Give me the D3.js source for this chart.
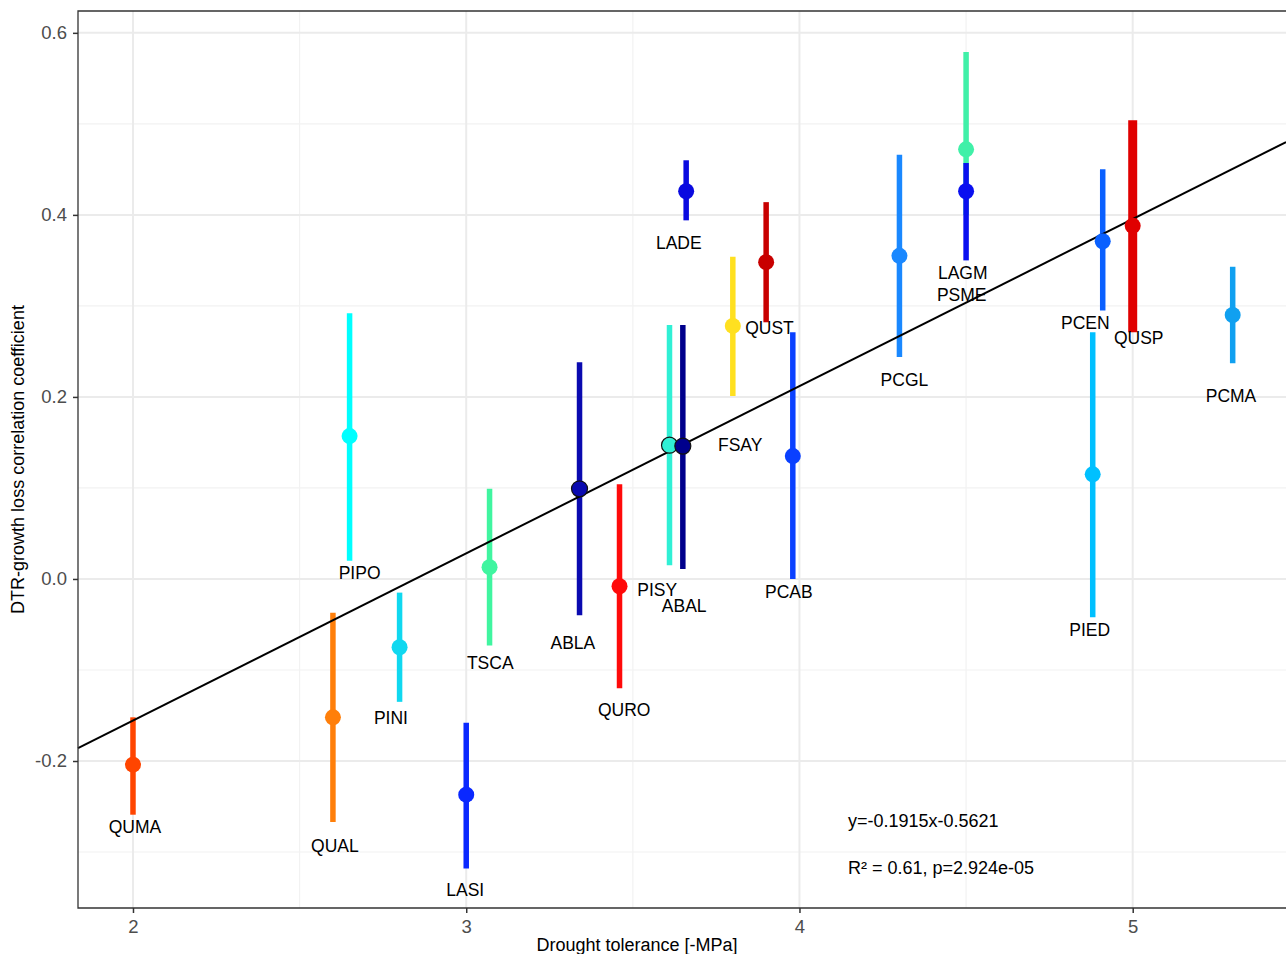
<!DOCTYPE html>
<html><head><meta charset="utf-8">
<script src="https://cdn.jsdelivr.net/npm/d3@7/dist/d3.min.js"></script>
<style>body{margin:0;background:#fff}svg{display:block}text{font-family:"Liberation Sans",Arial,sans-serif}</style>
</head><body><svg id="c" width="1286" height="954"></svg>
<script>
const species = ["QUMA","QUAL","PINI","PIPO","LASI","TSCA","ABLA","QURO","PISY","ABAL","LADE","FSAY","QUST","PCAB","PCGL","LAGM","PSME","PCEN","QUSP","PCMA","PIED"];
const tolerance = [2.0,2.6,2.8,2.65,3.0,3.07,3.34,3.46,3.61,3.65,3.66,3.80,3.90,3.98,4.30,4.50,4.50,4.91,5.0,5.30,4.88];
const corr = [-0.204,-0.152,-0.075,0.157,-0.237,0.013,0.099,-0.008,0.147,0.146,0.426,0.278,0.348,0.135,0.355,0.472,0.426,0.371,0.388,0.290,0.115];
const lower = [-0.259,-0.267,-0.135,0.020,-0.318,-0.073,-0.040,-0.120,0.015,0.011,0.394,0.201,0.282,0.0,0.244,0.40,0.350,0.295,0.271,0.237,-0.042];
const upper = [-0.152,-0.037,-0.015,0.292,-0.158,0.099,0.238,0.104,0.279,0.279,0.460,0.354,0.414,0.271,0.466,0.579,0.457,0.450,0.504,0.343,0.271];
const colors = ["#ff4500","#ff7f0a","#10d8f0","#00ffff","#0a28ff","#40f5a0","#0a0ab0","#ff0a0a","#30f0d5","#00008c","#0a0ae0","#ffe020","#c80000","#0a40ff","#1a88ff","#40f0a8","#0a10f0","#0a60ff","#e00000","#10a0f0","#00c0ff"];
const outlined = ["ABLA","PISY","ABAL"];
const barWidth = {QUSP:9};
// label positions in data units (placed by repel in original)
const labelX = [2.006,2.606,2.774,2.68,2.997,3.072,3.32,3.474,3.573,3.654,3.638,3.822,3.91,3.968,4.315,4.49,4.487,4.858,5.018,5.295,4.871];
const labelY = [-0.2725,-0.293,-0.153,0.0066,-0.342,-0.092,-0.070,-0.144,-0.012,-0.030,0.369,0.147,0.276,-0.014,0.219,0.336,0.312,0.281,0.265,0.201,-0.056];
const fitSlope = 0.1837, fitIntercept = -0.523;
const xTicks = [2,3,4,5], yTicks = [-0.2,0,0.2,0.4,0.6];
const xMinor = [2.5,3.5,4.5], yMinor = [-0.3,-0.1,0.1,0.3,0.5];
const eqText = "y=-0.1915x-0.5621";
const r2Text = "R² = 0.61, p=2.924e-05";

const svg = d3.select("#c");
const L=78, T=11, R=1286, B=908;
const x = d3.scaleLinear().domain([1.835,5.46]).range([L,R]);
const y = d3.scaleLinear().domain([-0.3615,0.624]).range([B,T]);
const g = svg.append("g");
// grid
g.selectAll(".ym").data(yMinor).join("line").attr("x1",L).attr("x2",R).attr("y1",d=>y(d)).attr("y2",d=>y(d)).attr("stroke","#f2f2f2").attr("stroke-width",1.2);
g.selectAll(".xm").data(xMinor).join("line").attr("y1",T).attr("y2",B).attr("x1",d=>x(d)).attr("x2",d=>x(d)).attr("stroke","#f2f2f2").attr("stroke-width",1.2);
g.selectAll(".yM").data(yTicks).join("line").attr("x1",L).attr("x2",R).attr("y1",d=>y(d)).attr("y2",d=>y(d)).attr("stroke","#ebebeb").attr("stroke-width",2);
g.selectAll(".xM").data(xTicks).join("line").attr("y1",T).attr("y2",B).attr("x1",d=>x(d)).attr("x2",d=>x(d)).attr("stroke","#ebebeb").attr("stroke-width",2);

const data = species.map((s,i)=>({s,x:tolerance[i],y:corr[i],lo:lower[i],hi:upper[i],c:colors[i],lx:labelX[i],ly:labelY[i]}));
// bars
g.selectAll(".bar").data(data).join("line").attr("x1",d=>x(d.x)).attr("x2",d=>x(d.x)).attr("y1",d=>y(d.lo)).attr("y2",d=>y(d.hi)).attr("stroke",d=>d.c).attr("stroke-width",d=>barWidth[d.s]||5.5);
// regression
const xd = x.domain();
g.append("line").attr("x1",x(xd[0])).attr("x2",x(xd[1])).attr("y1",y(fitSlope*xd[0]+fitIntercept)).attr("y2",y(fitSlope*xd[1]+fitIntercept)).attr("stroke","#000").attr("stroke-width",2);
// points
g.selectAll(".pt").data(data).join("circle").attr("cx",d=>x(d.x)).attr("cy",d=>y(d.y)).attr("r",8).attr("fill",d=>d.c).attr("stroke",d=>outlined.includes(d.s)?"#111":"none").attr("stroke-width",1.2);
// labels
g.selectAll(".lb").data(data).join("text").attr("x",d=>x(d.lx)).attr("y",d=>y(d.ly)).attr("text-anchor","middle").attr("dominant-baseline","central").attr("font-size",17.5).attr("fill","#000").text(d=>d.s);
// annotations
g.append("text").attr("x",848).attr("y",827).attr("font-size",18).text(eqText);
g.append("text").attr("x",848).attr("y",874).attr("font-size",18).text(r2Text);
// border
svg.append("path").attr("d",`M${R},${T}H${L}V${B}H${R}`).attr("fill","none").attr("stroke","#333").attr("stroke-width",1.3);
// axes
const fmtY = d => d3.format(".1f")(d).replace("\u2212","-");
const xa = svg.append("g").attr("transform",`translate(0,${B})`).call(d3.axisBottom(x).tickValues(xTicks).tickFormat(d3.format("d")).tickSize(5).tickPadding(7));
const ya = svg.append("g").attr("transform",`translate(${L},0)`).call(d3.axisLeft(y).tickValues(yTicks).tickFormat(fmtY).tickSize(5).tickPadding(6));
[xa,ya].forEach(a=>{a.select(".domain").remove();a.selectAll("line").attr("stroke","#333").attr("stroke-width",1.5);a.selectAll("text").attr("fill","#4d4d4d").attr("font-size",18.5).attr("font-family","Liberation Sans, Arial, sans-serif");});
svg.append("text").attr("x",637).attr("y",951).attr("text-anchor","middle").attr("font-size",18).text("Drought tolerance [-MPa]");
svg.append("text").attr("transform",`translate(24,${(T+B)/2}) rotate(-90)`).attr("text-anchor","middle").attr("font-size",18).text("DTR-growth loss correlation coefficient");
</script></body></html>
